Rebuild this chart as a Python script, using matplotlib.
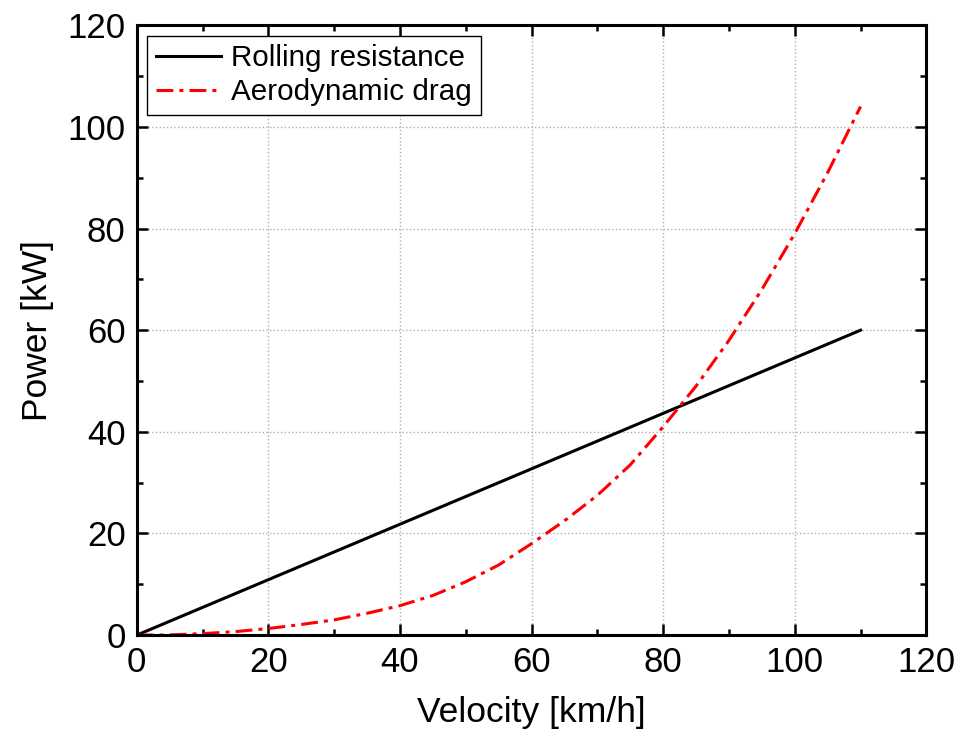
import matplotlib
matplotlib.use("Agg")
import matplotlib.pyplot as plt
from matplotlib.ticker import MultipleLocator

plt.rcParams['font.family'] = ['Liberation Sans', 'DejaVu Sans']

# Rolling resistance power (linear)
v_roll = [0, 110]
p_roll = [0, 60]

# Aerodynamic drag power
v_aero = [0, 5, 10, 15, 20, 25, 30, 35, 40, 45, 50, 55,
          60, 65, 70, 75, 80, 85, 90, 95, 100, 105, 110]
p_aero = [0, 0.05, 0.3, 0.7, 1.3, 2.1, 3.0, 4.3, 5.8, 7.8, 10.5, 13.8,
          18, 22.5, 27.5, 33.5, 41, 49, 58, 68, 79, 91, 104]

fig = plt.figure(figsize=(9.56, 7.42), dpi=100)
ax = fig.add_axes([0.143, 0.144, 0.826, 0.822])

ax.plot(v_roll, p_roll, color='black', lw=2.2, label='Rolling resistance')
ax.plot(v_aero, p_aero, color='red', lw=2.2, ls=(0, (5.5, 2, 1.3, 2)),
        label='Aerodynamic drag')

ax.set_xlim(0, 120)
ax.set_ylim(0, 120)
ax.xaxis.set_major_locator(MultipleLocator(20))
ax.yaxis.set_major_locator(MultipleLocator(20))
ax.xaxis.set_minor_locator(MultipleLocator(10))
ax.yaxis.set_minor_locator(MultipleLocator(10))
ax.tick_params(which='both', direction='in', top=True, right=True, width=1.8)
ax.tick_params(which='major', length=8, labelsize=25, pad=8)
ax.tick_params(which='minor', length=4.5)
for s in ax.spines.values():
    s.set_linewidth(2.2)

ax.grid(True, which='major', ls=':', color='#b0b0b0', lw=1)

ax.set_xlabel('Velocity [km/h]', fontsize=25.5, labelpad=12)
ax.set_ylabel('Power [kW]', fontsize=25.5, labelpad=10)

leg = ax.legend(loc='upper left', fontsize=21.3, fancybox=False, framealpha=1,
                edgecolor='black', handlelength=2.2, borderaxespad=0.35,
                borderpad=0.3, labelspacing=0.2, handletextpad=0.35)
leg.get_frame().set_linewidth(1.0)

fig.savefig('out.png', dpi=100)
